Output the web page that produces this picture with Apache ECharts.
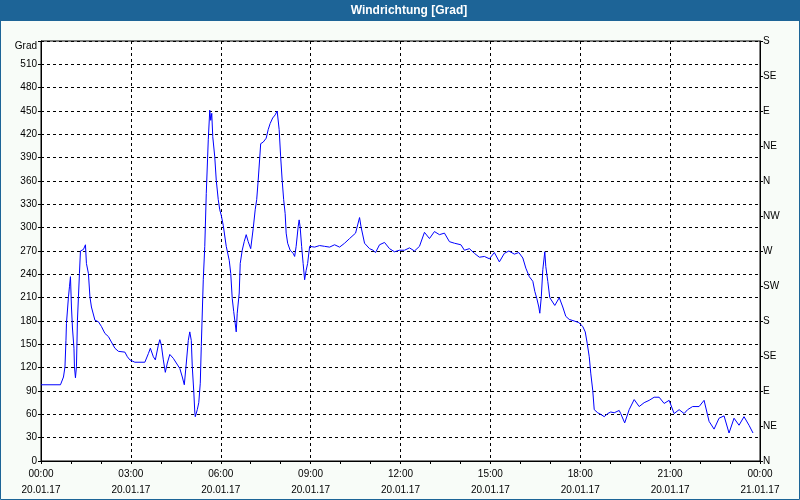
<!DOCTYPE html>
<html>
<head>
<meta charset="utf-8">
<script src="https://cdn.jsdelivr.net/npm/echarts@6/dist/echarts.min.js"></script>
<style>
html,body{margin:0;padding:0;background:#f8fcf8;}
#chart{width:800px;height:500px;}
</style>
</head>
<body>
<div id="chart"></div>
<script>
// Minutes since 20.01.17 00:00
var times = [0,39,45,48,50,51,55,57,59,61,63,66,67,69,71,73,75,77,79,85,89,91,95,98,101,108,115,121,128,135,141,148,155,168,173,178,188,208,215,219,225,229,235,238,241,245,249,253,258,265,271,278,283,287,291,295,298,301,303,306,308,309,313,316,319,321,325,328,331,335,338,340,342,344,348,351,355,358,361,365,371,377,380,383,386,391,393,397,399,403,407,411,415,420,425,429,432,435,440,445,451,455,459,464,469,473,477,480,483,486,489,491,494,499,505,508,511,515,517,519,522,525,528,531,534,538,541,548,558,568,578,588,598,608,618,630,638,641,648,658,665,670,678,688,698,708,718,728,738,748,758,768,778,788,798,808,818,828,841,848,858,868,878,888,898,908,918,928,937,948,957,965,971,978,985,989,993,997,999,1002,1005,1009,1011,1015,1019,1029,1038,1045,1051,1058,1068,1077,1085,1090,1094,1098,1101,1105,1108,1115,1121,1128,1135,1141,1148,1158,1161,1169,1178,1188,1198,1208,1218,1228,1238,1248,1258,1268,1278,1288,1295,1305,1318,1328,1338,1348,1358,1368,1378,1388,1398,1408,1418,1426];
var degrees = [98,98,108,121,155,177,211,224,237,198,171,145,121,107,121,181,211,241,270,272,278,254,241,211,198,181,179,173,164,160,153,145,141,140,134,130,127,127,138,145,134,130,149,156,149,130,114,126,137,132,126,119,108,98,126,155,166,155,121,89,63,57,66,75,100,147,233,276,344,413,451,438,447,417,391,361,336,323,316,303,276,258,241,209,192,166,190,216,254,271,282,291,282,273,299,323,336,361,408,410,415,426,434,441,445,450,426,391,361,336,318,293,280,271,267,263,276,301,310,301,276,254,233,245,254,276,278,275,277,276,275,278,275,280,286,293,313,301,280,273,271,268,278,281,273,269,271,271,274,270,276,294,286,295,291,293,282,280,278,271,273,267,262,263,260,268,256,267,270,266,268,261,248,237,231,218,209,198,190,211,246,269,250,231,210,200,210,198,186,182,180,178,173,166,151,134,113,91,66,62,60,57,61,63,62,65,61,49,66,79,70,75,78,82,82,74,78,61,66,61,66,70,70,78,51,41,55,58,36,55,46,57,46,36];
var timeLabels = ['00:00','03:00','06:00','09:00','12:00','15:00','18:00','21:00','00:00'];
var dateLabels = ['20.01.17','20.01.17','20.01.17','20.01.17','20.01.17','20.01.17','20.01.17','20.01.17','21.01.17'];
var compassLabels = ['N','NE','E','SE','S','SW','W','NW','N','NE','E','SE','S'];
var chartTitle = 'Windrichtung [Grad]';
var unitLabel = 'Grad';

var data = times.map(function(t,i){return [t, degrees[i]];});
var chart = echarts.init(document.getElementById('chart'), null, {renderer:'canvas'});
var font = 'Liberation Sans, Arial, sans-serif';
chart.setOption({
  animation:false,
  backgroundColor:'#f8fcf8',
  grid:{left:41,right:40,top:41,bottom:39,show:true,backgroundColor:'#ffffff',borderColor:'#000',borderWidth:1},
  graphic:[
    {type:'rect',shape:{x:0,y:0,width:800,height:21},style:{fill:'#1d6497'},z:10},
    {type:'rect',shape:{x:0.5,y:0.5,width:799,height:499},style:{fill:'none',stroke:'#1d6497',lineWidth:1},z:10},
    {type:'text',x:409,y:11,style:{text:chartTitle,fill:'#fff',font:'bold 12px '+font,textAlign:'center',textVerticalAlign:'middle'},z:11},
    {type:'text',x:37,y:46,style:{text:unitLabel,fill:'#000',font:'10px '+font,textAlign:'right',textVerticalAlign:'middle'},z:11}
  ],
  xAxis:{
    type:'value',min:0,max:1440,interval:180,
    axisLine:{show:true,onZero:false,lineStyle:{color:'#000',width:1}},
    axisTick:{show:true,length:3,lineStyle:{color:'#000'}},
    minorTick:{show:true,splitNumber:3,length:3,lineStyle:{color:'#000'}},
    splitLine:{show:true,lineStyle:{color:'#000',type:[3,3],width:1}},
    axisLabel:{margin:5,color:'#000',fontSize:10,fontFamily:font,lineHeight:16,
      formatter:function(v){var i=Math.round(v/180);return timeLabels[i]+'\n'+dateLabels[i];}}
  },
  yAxis:[
    {type:'value',min:0,max:540,interval:30,position:'left',
      axisLine:{show:true,lineStyle:{color:'#000'}},
      axisTick:{show:true,length:3,lineStyle:{color:'#000'}},
      splitLine:{show:true,lineStyle:{color:'#000',type:[3,3],width:1}},
      axisLabel:{margin:4,color:'#000',fontSize:10,fontFamily:font,
        formatter:function(v){return v===540?'':String(v);}}
    },
    {type:'value',min:0,max:540,interval:45,position:'right',
      axisLine:{show:true,lineStyle:{color:'#000'}},
      axisTick:{show:true,length:3,lineStyle:{color:'#000'}},
      splitLine:{show:false},
      axisLabel:{margin:3,color:'#000',fontSize:10,fontFamily:font,
        formatter:function(v){return compassLabels[Math.round(v/45)];}}
    }
  ],
  series:[{type:'line',data:data,showSymbol:false,yAxisIndex:0,
    lineStyle:{color:'#0000ff',width:1},itemStyle:{color:'#0000ff'}}]
});
</script>
</body>
</html>
